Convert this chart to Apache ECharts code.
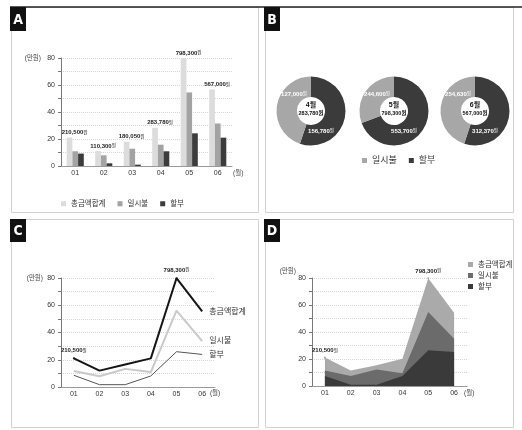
<!DOCTYPE html>
<html>
<head>
<meta charset="utf-8">
<script src="https://cdn.jsdelivr.net/npm/echarts@6/dist/echarts.min.js"></script>
<style>
  html, body { margin: 0; padding: 0; background: #fff; }
  #chart { width: 522px; height: 430px; }
</style>
</head>
<body>
<div id="chart"></div>
<script>
// Months on the x axes (A, C, D)
const months = ['01', '02', '03', '04', '05', '06'];

// A: monthly card spending, bars (unit: 만원)
const barTotal   = [21.05, 11.03, 18.005, 28.378, 79.83, 56.7];
const barLump    = [10.9, 7.9, 12.8, 15.8, 54.5, 31.5];
const barInstall = [9.2, 2.0, 1.0, 10.9, 24.2, 21.0];

// B: lump-sum vs installment split for April–June (unit: 원)
const pieMonths  = ['4월', '5월', '6월'];
const pieLump    = [127000, 244600, 254630];
const pieInstall = [156780, 553700, 312370];

// C: same months as lines (unit: 만원)
const lineTotal   = [21.05, 12.0, 16.5, 21.0, 79.83, 55.5];
const lineLump    = [11.8, 7.9, 13.3, 11.0, 56.0, 33.7];
const lineInstall = [8.6, 1.7, 1.7, 8.1, 25.9, 23.9];

// D: same months as overlapping areas (unit: 만원)
const areaTotal   = [21.05, 11.4, 15.3, 20.2, 79.83, 54.3];
const areaLump    = [11.4, 7.4, 12.3, 9.4, 54.8, 35.0];
const areaInstall = [7.4, 1.0, 1.0, 7.4, 26.4, 25.2];

// Months whose total gets a value callout in C and D
const calloutMonths = ['01', '05'];

const FONT = '"Liberation Sans", "Noto Sans CJK KR", sans-serif';
const fmt = n => Math.round(n).toLocaleString('en-US');

const valueRich = (color, big, small) => ({
  v: { fontSize: big, fontWeight: 'bold', color: color, fontFamily: FONT },
  u: { fontSize: small, color: color, fontFamily: FONT }
});

function catAxis(gi, gap, margin) {
  return {
    type: 'category', gridIndex: gi, data: months, boundaryGap: true,
    name: '(월)', nameLocation: 'end', nameGap: gap,
    nameTextStyle: { fontSize: 6.5, color: '#444', align: 'left', verticalAlign: 'top', padding: [margin - 0.5, 0, 0, 0] },
    axisLine: { lineStyle: { color: '#9a9a9a', width: 1 } },
    axisTick: { show: false },
    axisLabel: { fontSize: 7, color: '#333', margin: margin },
    splitLine: { show: false }
  };
}

function valAxis(gi, namePad) {
  return {
    type: 'value', gridIndex: gi, min: 0, max: 80, interval: 10,
    name: '(만원)', nameLocation: 'end', nameGap: 0,
    nameTextStyle: { fontSize: 6.5, color: '#444', align: 'right', verticalAlign: 'middle', padding: [0, namePad, 0, 0] },
    axisLine: { show: true, lineStyle: { color: '#777', width: 1 } },
    axisTick: { show: true, length: 3, lineStyle: { color: '#777' } },
    axisLabel: { fontSize: 7, color: '#333', margin: 6, formatter: v => (v % 20 === 0 ? String(v) : '') },
    splitLine: { show: true, lineStyle: { color: '#d6d6d6', type: 'dotted', width: 1 } }
  };
}

// Points with a callout get a tiny marker so the label can attach to it
function calloutData(values, color) {
  return values.map((v, i) => calloutMonths.includes(months[i])
    ? { value: v, symbol: 'circle', symbolSize: 2, itemStyle: { color: color }, label: { show: true } }
    : { value: v, symbol: 'none' });
}

const calloutLabel = {
  show: false, position: 'top', distance: 4,
  formatter: p => `{v|${fmt(p.value * 10000)}}{u|원}`,
  rich: valueRich('#222', 6, 4.5)
};

// Panel frames and letter tags
const panels = [
  { x: 11, y: 7, w: 248, h: 206, tag: 'A', tagH: 24 },
  { x: 265, y: 7, w: 249, h: 206, tag: 'B', tagH: 24 },
  { x: 11, y: 219, w: 248, h: 209, tag: 'C', tagH: 23 },
  { x: 265, y: 219, w: 249, h: 209, tag: 'D', tagH: 23 }
];
const graphics = [];
panels.forEach(p => {
  graphics.push({ type: 'rect', silent: true, shape: { x: p.x + 0.5, y: p.y + 0.5, width: p.w - 1, height: p.h - 1 },
    style: { fill: 'none', stroke: '#d2d2d2', lineWidth: 1 } });
});
graphics.push({ type: 'line', silent: true, shape: { x1: 10, y1: 7, x2: 522, y2: 7 }, style: { stroke: '#222', lineWidth: 1.5 } });
panels.forEach(p => {
  const tx = p.x - 1;
  graphics.push({ type: 'rect', silent: true, shape: { x: tx, y: p.y, width: 16, height: p.tagH }, style: { fill: '#111' } });
  graphics.push({ type: 'text', silent: true, x: tx + 8, y: p.y + p.tagH / 2 + 1,
    style: { text: p.tag, fill: '#fff', align: 'center', verticalAlign: 'middle', font: 'bold 14px "DejaVu Sans Condensed", "DejaVu Sans", sans-serif' } });
});

// Donut centres for panel B
const pieCx = [311, 394, 475];
const pieCy = 111;
pieMonths.forEach((m, i) => {
  graphics.push({ type: 'text', silent: true, x: pieCx[i], y: pieCy - 6,
    style: { text: m, fill: '#111', align: 'center', verticalAlign: 'middle', font: 'bold 7px ' + FONT } });
  graphics.push({ type: 'text', silent: true, x: pieCx[i], y: pieCy + 2,
    style: { text: fmt(pieLump[i] + pieInstall[i]) + '원', fill: '#111', align: 'center', verticalAlign: 'middle', font: 'bold 5.5px ' + FONT } });
});

const pieSeries = pieMonths.map((m, i) => ({
  type: 'pie', name: m, center: [pieCx[i], pieCy], radius: [14, 34.5],
  startAngle: 90, clockwise: true, silent: true, avoidLabelOverlap: false,
  data: [
    { name: '할부', value: pieInstall[i], itemStyle: { color: '#3b3b3b' } },
    { name: '일시불', value: pieLump[i], itemStyle: { color: '#a7a7a7' } }
  ],
  label: {
    show: true, position: 'inside', align: 'center', verticalAlign: 'middle',
    formatter: p => `{v|${fmt(p.value)}}{u|원}`,
    rich: valueRich('#fff', 6, 4.5)
  },
  labelLine: { show: false },
  labelLayout: p => ({
    x: pieCx[i] + (p.dataIndex === 0 ? 10 : -17),
    y: pieCy + (p.dataIndex === 0 ? 20 : -17),
    align: 'center', verticalAlign: 'middle'
  })
}));

const option = {
  animation: false,
  textStyle: { fontFamily: FONT },
  grid: [
    { left: 61, top: 58, width: 171, height: 108 },
    { left: 61, top: 278, width: 154, height: 109 },
    { left: 312, top: 278, width: 155, height: 108 }
  ],
  xAxis: [catAxis(0, 1, 4), catAxis(1, -7, 3.5), catAxis(2, -3, 4)],
  yAxis: [valAxis(0, 20), valAxis(1, 18), valAxis(2, 16)],
  legend: [
    {
      left: 56, top: 195, selectedMode: false, icon: 'rect', itemWidth: 5, itemHeight: 5, itemGap: 12,
      textStyle: { fontSize: 7.5, color: '#333' },
      data: [
        { name: '총금액합계', itemStyle: { color: '#dcdcdc' } },
        { name: '일시불', itemStyle: { color: '#a3a3a3' } },
        { name: '할부', itemStyle: { color: '#3c3c3c' } }
      ]
    },
    {
      left: 357, top: 151, selectedMode: false, icon: 'rect', itemWidth: 5, itemHeight: 5, itemGap: 12,
      textStyle: { fontSize: 9, color: '#333' },
      data: [
        { name: '일시불', itemStyle: { color: '#a7a7a7' } },
        { name: '할부', itemStyle: { color: '#3b3b3b' } }
      ]
    },
    {
      left: 463, top: 255, orient: 'vertical', selectedMode: false, icon: 'rect', itemWidth: 5, itemHeight: 5, itemGap: 2,
      textStyle: { fontSize: 7.5, color: '#333', lineHeight: 9 },
      data: [
        { name: '총금액합계', itemStyle: { color: '#aaaaaa' } },
        { name: '일시불', itemStyle: { color: '#6b6b6b' } },
        { name: '할부', itemStyle: { color: '#3a3a3a' } }
      ]
    }
  ],
  graphic: graphics,
  series: [
    // A: grouped bars
    {
      type: 'bar', name: '총금액합계', xAxisIndex: 0, yAxisIndex: 0, data: barTotal,
      barWidth: '20%', barGap: '0%', itemStyle: { color: '#dcdcdc' },
      label: {
        show: true, position: 'top', distance: 2, offset: [5, 0],
        formatter: p => `{v|${fmt(p.value * 10000)}}{u|원}`,
        rich: valueRich('#222', 6, 4.5)
      }
    },
    { type: 'bar', name: '일시불', xAxisIndex: 0, yAxisIndex: 0, data: barLump, barWidth: '20%', barGap: '0%', itemStyle: { color: '#a3a3a3' } },
    { type: 'bar', name: '할부', xAxisIndex: 0, yAxisIndex: 0, data: barInstall, barWidth: '20%', barGap: '0%', itemStyle: { color: '#3c3c3c' } },

    // B: donuts
    ...pieSeries,

    // C: lines with end labels
    {
      type: 'line', name: '총금액합계', xAxisIndex: 1, yAxisIndex: 1,
      data: calloutData(lineTotal, '#151515'),
      lineStyle: { color: '#151515', width: 2 }, itemStyle: { color: '#151515' },
      label: calloutLabel,
      endLabel: { show: true, formatter: '{a}', fontSize: 8, color: '#333', distance: 7 }
    },
    {
      type: 'line', name: '일시불', xAxisIndex: 1, yAxisIndex: 1, data: lineLump, symbol: 'none',
      lineStyle: { color: '#c9c9c9', width: 2 }, itemStyle: { color: '#c9c9c9' },
      endLabel: { show: true, formatter: '{a}', fontSize: 8, color: '#333', distance: 7 }
    },
    {
      type: 'line', name: '할부', xAxisIndex: 1, yAxisIndex: 1, data: lineInstall, symbol: 'none',
      lineStyle: { color: '#555', width: 1 }, itemStyle: { color: '#555' },
      endLabel: { show: true, formatter: '{a}', fontSize: 8, color: '#333', distance: 7 }
    },

    // D: overlapping areas
    {
      type: 'line', name: '총금액합계', xAxisIndex: 2, yAxisIndex: 2,
      data: calloutData(areaTotal, '#aaaaaa'),
      lineStyle: { width: 0 }, itemStyle: { color: '#aaaaaa' },
      areaStyle: { color: '#aaaaaa', opacity: 1 },
      label: Object.assign({}, calloutLabel, { distance: 3 })
    },
    {
      type: 'line', name: '일시불', xAxisIndex: 2, yAxisIndex: 2, data: areaLump, symbol: 'none',
      lineStyle: { width: 0 }, itemStyle: { color: '#6b6b6b' },
      areaStyle: { color: '#6b6b6b', opacity: 1 }
    },
    {
      type: 'line', name: '할부', xAxisIndex: 2, yAxisIndex: 2, data: areaInstall, symbol: 'none',
      lineStyle: { width: 0 }, itemStyle: { color: '#3a3a3a' },
      areaStyle: { color: '#3a3a3a', opacity: 1 }
    }
  ]
};

const chart = echarts.init(document.getElementById('chart'), null, { renderer: 'canvas' });
chart.setOption(option);
</script>
</body>
</html>
